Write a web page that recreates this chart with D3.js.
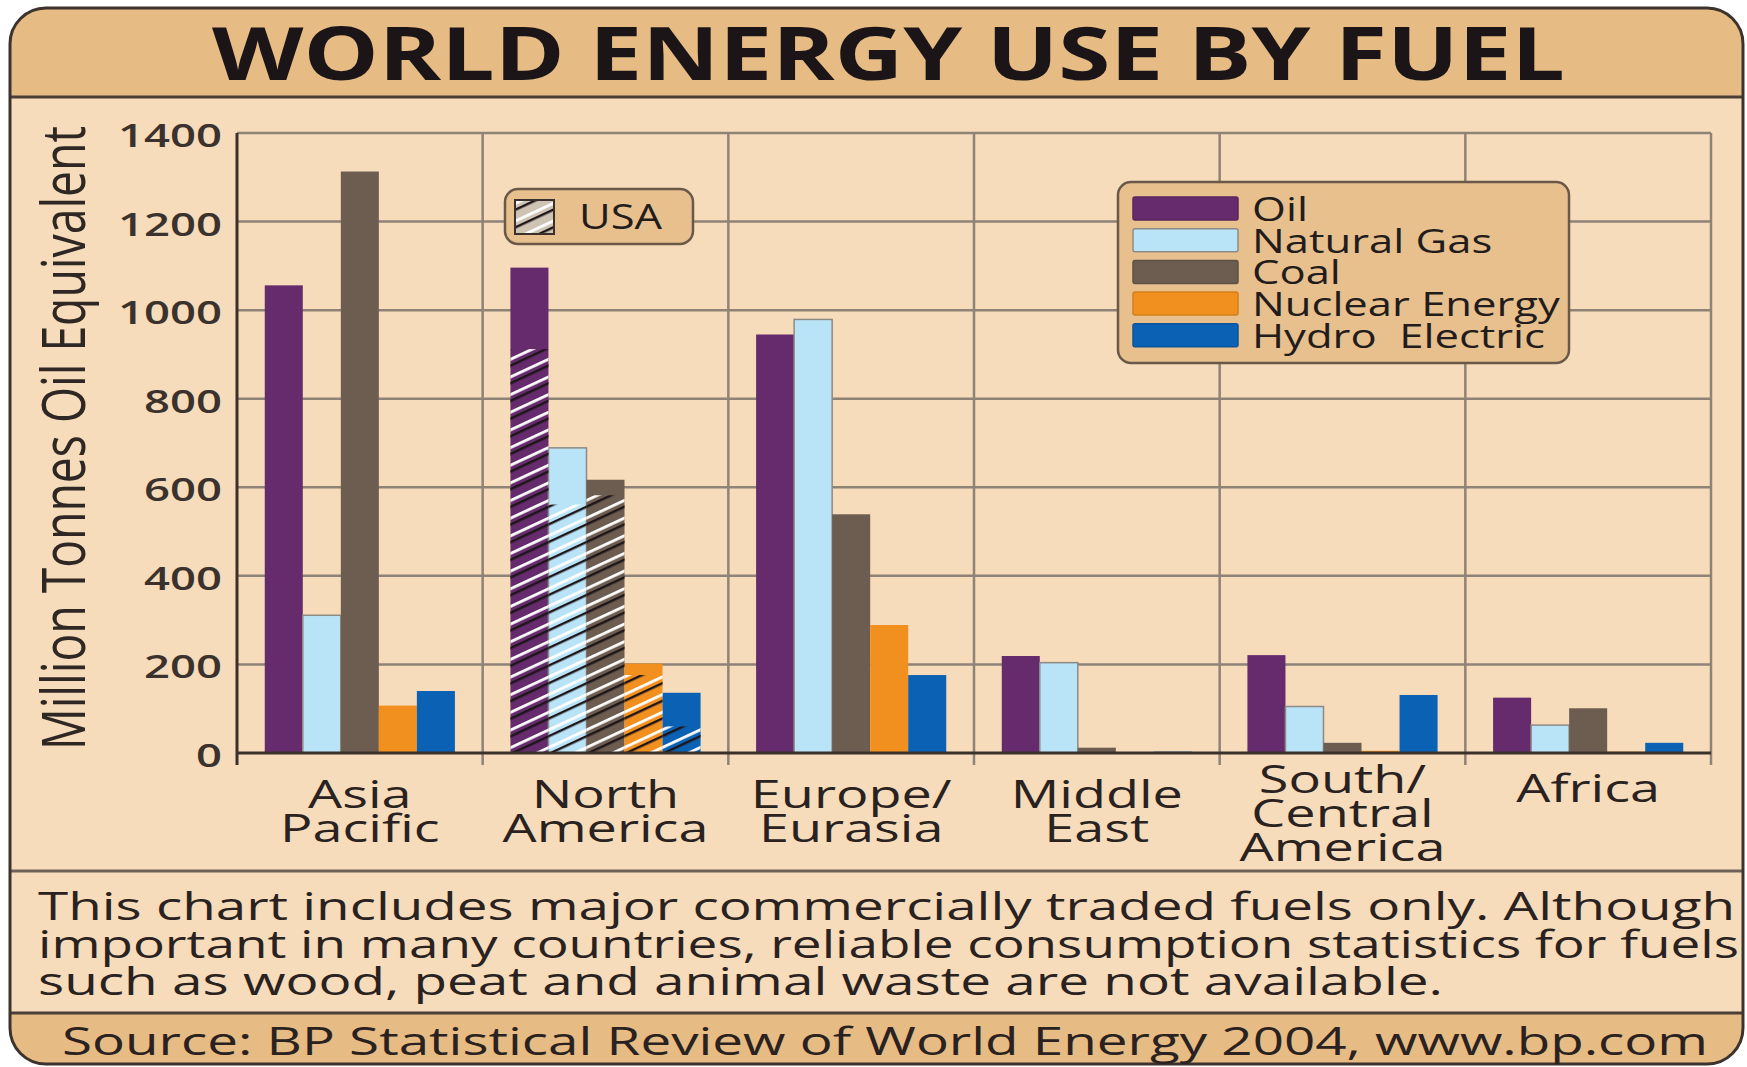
<!DOCTYPE html>
<html>
<head>
<meta charset="utf-8">
<script src="https://cdn.jsdelivr.net/npm/d3@7"></script>
<style>
  html, body { margin: 0; padding: 0; background: #ffffff; }
  svg { display: block; }
  text { font-family: "Open Sans", "Noto Sans", "DejaVu Sans", sans-serif; }
</style>
</head>
<body>
<svg id="chart" width="1747" height="1067"></svg>
<script>
// ---- data (Million Tonnes Oil Equivalent) ----
const regions = ["Asia Pacific", "North America", "Europe/Eurasia", "Middle East", "South/Central America", "Africa"];
const regionLines = [["Asia", "Pacific"], ["North", "America"], ["Europe/", "Eurasia"], ["Middle", "East"], ["South/", "Central", "America"], ["Africa"]];
const fuels = ["Oil", "Natural Gas", "Coal", "Nuclear Energy", "Hydro  Electric"];
const oil     = [1056, 1096, 945, 219, 221, 125];
const gas     = [311, 689, 979, 204, 105, 63];
const coal    = [1313, 617, 539, 12, 23, 101];
const nuclear = [107, 202, 289, 0, 5, 3];
const hydro   = [140, 136, 176, 3, 131, 23];
// United States share of the North America bars, same fuel order
const usaValues = [912, 561, 582, 176, 60];
const usaRegion = "North America";
const yTicks = [0, 200, 400, 600, 800, 1000, 1200, 1400];
const fuelColors = ["#652b6d", "#b9e3f7", "#6c5d50", "#f2901f", "#0b61b3"];

const titleText = "WORLD ENERGY USE BY FUEL";
const yTitleText = "Million Tonnes Oil Equivalent";
const usaLabel = "USA";
const noteLines = [
  "This chart includes major commercially traded fuels only. Although",
  "important in many countries, reliable consumption statistics for fuels",
  "such as wood, peat and animal waste are not available."
];
const sourceText = "Source: BP Statistical Review of World Energy 2004, www.bp.com";

// ---- layout ----
const W = 1747, H = 1067;
const frame = { x: 10, y: 8, w: 1733, h: 1056, r: 36 };
const plot = { left: 237, right: 1711, top: 133, bottom: 753 };
const headerBottom = 97, noteTop = 871, sourceTop = 1013;
const peach = "#f6dcba", tan = "#e6bb84", boxFill = "#e8c08d";
const dark = "#3a302c", gridCol = "#8f8277";
const K = 1.42; // horizontal glyph stretch used by the typography

const series = [oil, gas, coal, nuclear, hydro];
const table = regions.map((r, i) => ({
  region: r,
  values: fuels.map((f, j) => ({ region: r, fuel: f, value: series[j][i] }))
}));

const svg = d3.select("#chart");
const defs = svg.append("defs");

defs.append("clipPath").attr("id", "frameClip")
  .append("rect")
  .attr("x", frame.x).attr("y", frame.y).attr("width", frame.w).attr("height", frame.h)
  .attr("rx", frame.r);

const hatch = defs.append("pattern")
  .attr("id", "usaHatch")
  .attr("patternUnits", "userSpaceOnUse")
  .attr("width", 16).attr("height", 16)
  .attr("patternTransform", "rotate(-25)");
hatch.append("rect").attr("x", 0).attr("y", 0).attr("width", 16).attr("height", 2.8).attr("fill", "#ffffff");
hatch.append("rect").attr("x", 0).attr("y", 6).attr("width", 16).attr("height", 2.4).attr("fill", "#1d1518");

function stretch(sel, k) {
  sel.each(function () {
    const w = this.getComputedTextLength();
    this.setAttribute("textLength", w * k);
    this.setAttribute("lengthAdjust", "spacingAndGlyphs");
  });
}
function fit(sel, width) {
  sel.attr("textLength", width).attr("lengthAdjust", "spacingAndGlyphs");
}

// ---- panel ----
const panel = svg.append("g").attr("clip-path", "url(#frameClip)");
panel.append("rect").attr("x", 0).attr("y", 0).attr("width", W).attr("height", H).attr("fill", peach);
panel.append("rect").attr("x", 0).attr("y", 0).attr("width", W).attr("height", headerBottom).attr("fill", tan);
panel.append("rect").attr("x", 0).attr("y", sourceTop).attr("width", W).attr("height", H - sourceTop).attr("fill", tan);
[[headerBottom, "#4b3f37"], [noteTop, "#6e6259"], [sourceTop, "#4b3f37"]].forEach(([yy, c]) => {
  panel.append("line").attr("x1", 0).attr("x2", W).attr("y1", yy).attr("y2", yy)
    .attr("stroke", c).attr("stroke-width", 3);
});
svg.append("rect")
  .attr("x", frame.x).attr("y", frame.y).attr("width", frame.w).attr("height", frame.h)
  .attr("rx", frame.r).attr("fill", "none").attr("stroke", "#3d332e").attr("stroke-width", 3);

// ---- title ----
svg.append("text")
  .attr("x", 888.5).attr("y", 80)
  .attr("text-anchor", "middle")
  .attr("font-size", 73).attr("font-weight", 700).attr("fill", "#1b1517")
  .text(titleText)
  .call(fit, 1353);

// ---- scales ----
const x = d3.scaleBand().domain(regions).range([plot.left, plot.right]).padding(0);
const xf = d3.scaleBand().domain(fuels).range([0, x.bandwidth()]).paddingInner(0).paddingOuter(0.73);
const y = d3.scaleLinear().domain([0, 1400]).range([plot.bottom, plot.top]);
const color = d3.scaleOrdinal().domain(fuels).range(fuelColors);

// ---- grid ----
const chart = svg.append("g");
chart.append("g")
  .selectAll("line").data(yTicks.filter(v => v > 0)).join("line")
  .attr("x1", plot.left).attr("x2", plot.right)
  .attr("y1", d => y(d)).attr("y2", d => y(d))
  .attr("stroke", gridCol).attr("stroke-width", 2.5);

const dividers = regions.slice(1).map(r => x(r)).concat([plot.right]);
chart.append("g")
  .selectAll("line").data(dividers).join("line")
  .attr("x1", d => d).attr("x2", d => d)
  .attr("y1", plot.top).attr("y2", plot.bottom + 12)
  .attr("stroke", gridCol).attr("stroke-width", 2.5);

// ---- bars ----
const groups = chart.append("g").selectAll("g").data(table).join("g")
  .attr("transform", d => `translate(${x(d.region)},0)`);

groups.selectAll("rect.bar").data(d => d.values).join("rect")
  .attr("class", "bar")
  .attr("x", d => xf(d.fuel))
  .attr("width", xf.bandwidth())
  .attr("y", d => y(d.value))
  .attr("height", d => y(0) - y(d.value))
  .attr("fill", d => color(d.fuel))
  .attr("stroke", d => d.fuel === "Natural Gas" ? "#8d8a86" : "none")
  .attr("stroke-width", 1.5);

// USA portion drawn over the North America bars
const usaData = fuels.map((f, j) => ({ fuel: f, value: usaValues[j] }));
chart.append("g")
  .attr("transform", `translate(${x(usaRegion)},0)`)
  .selectAll("rect").data(usaData).join("rect")
  .attr("x", d => xf(d.fuel))
  .attr("width", xf.bandwidth())
  .attr("y", d => y(d.value))
  .attr("height", d => y(0) - y(d.value))
  .attr("fill", "url(#usaHatch)");

// ---- axes ----
chart.append("line")
  .attr("x1", plot.left).attr("x2", plot.right)
  .attr("y1", y(0)).attr("y2", y(0))
  .attr("stroke", dark).attr("stroke-width", 3);
chart.append("line")
  .attr("x1", plot.left).attr("x2", plot.left)
  .attr("y1", plot.top).attr("y2", plot.bottom + 12)
  .attr("stroke", dark).attr("stroke-width", 3);

const yAxis = chart.append("g")
  .attr("transform", `translate(${plot.left},0)`)
  .call(d3.axisLeft(y).tickValues(yTicks).tickSize(0).tickPadding(15).tickFormat(d3.format("d")));
yAxis.select(".domain").remove();
yAxis.selectAll("text")
  .attr("font-family", "\"Open Sans\", \"Noto Sans\", sans-serif")
  .attr("font-size", 32).attr("font-weight", 600).attr("fill", "#3b322d")
  .attr("dy", "0.42em")
  .call(stretch, K);

// y-axis title: rotated, glyphs widened on screen
svg.append("g")
  .attr("transform", "translate(85,438) scale(1.4,1) rotate(-90)")
  .append("text")
  .attr("text-anchor", "middle")
  .attr("font-size", 43).attr("fill", "#2f2724")
  .text(yTitleText)
  .call(fit, 624);

// category labels: one text block per region, one tspan per line
const firstBaseline = { 1: 49, 2: 55, 3: 40 };
const lineGap = 34;
regions.forEach((r, i) => {
  const lines = regionLines[i];
  const cx = x(r) + x.bandwidth() / 2;
  const t = svg.append("text")
    .attr("text-anchor", "middle")
    .attr("font-size", 38).attr("fill", "#2a2220");
  lines.forEach((ln, k) => {
    t.append("tspan")
      .attr("x", cx)
      .attr("y", plot.bottom + firstBaseline[lines.length] + k * lineGap)
      .text(ln)
      .call(stretch, K);
  });
});

// ---- legend ----
const legend = svg.append("g").attr("transform", "translate(1118,182)");
legend.append("rect").attr("width", 451).attr("height", 181).attr("rx", 13)
  .attr("fill", boxFill).attr("stroke", "#6a5848").attr("stroke-width", 2.5);
const rowStep = 31.7;
legend.selectAll("rect.swatch").data(fuels).join("rect")
  .attr("class", "swatch")
  .attr("x", 15).attr("y", (d, i) => 15 + i * rowStep)
  .attr("width", 105).attr("height", 23).attr("rx", 2)
  .attr("fill", d => color(d))
  .attr("stroke", d => d === "Natural Gas" ? "#8d8a86" : d3.color(color(d)).darker(0.4))
  .attr("stroke-width", 1.5);
legend.append("text")
  .attr("font-size", 33).attr("fill", "#231c1c")
  .style("white-space", "pre")
  .selectAll("tspan").data(fuels).join("tspan")
  .attr("x", 134).attr("y", (d, i) => 39 + i * rowStep)
  .text(d => d)
  .call(stretch, 1.32);

// USA key
const usaKey = svg.append("g").attr("transform", "translate(505,189)");
usaKey.append("rect").attr("width", 188).attr("height", 55).attr("rx", 13)
  .attr("fill", boxFill).attr("stroke", "#6a5848").attr("stroke-width", 2.5);
usaKey.append("rect").attr("x", 10).attr("y", 11).attr("width", 39).attr("height", 34).attr("fill", "#cfc3b4");
usaKey.append("rect").attr("x", 10).attr("y", 11).attr("width", 39).attr("height", 34)
  .attr("fill", "url(#usaHatch)").attr("stroke", dark).attr("stroke-width", 2);
usaKey.append("text")
  .attr("x", 74).attr("y", 39.5)
  .attr("font-size", 35).attr("fill", "#231c1c")
  .text(usaLabel)
  .call(fit, 83);

// ---- footnote & source ----
const noteWidths = [1697, 1701, 1405];
svg.append("text")
  .attr("font-size", 39).attr("fill", "#2a2220")
  .selectAll("tspan").data(noteLines).join("tspan")
  .attr("x", 38).attr("y", (d, i) => 920 + i * 37.5)
  .text(d => d)
  .each(function (d, i) {
    this.setAttribute("textLength", noteWidths[i]);
    this.setAttribute("lengthAdjust", "spacingAndGlyphs");
  });
svg.append("text")
  .attr("x", 62).attr("y", 1055)
  .attr("font-size", 39).attr("fill", "#2a2220")
  .text(sourceText)
  .call(fit, 1646);
</script>
</body>
</html>
